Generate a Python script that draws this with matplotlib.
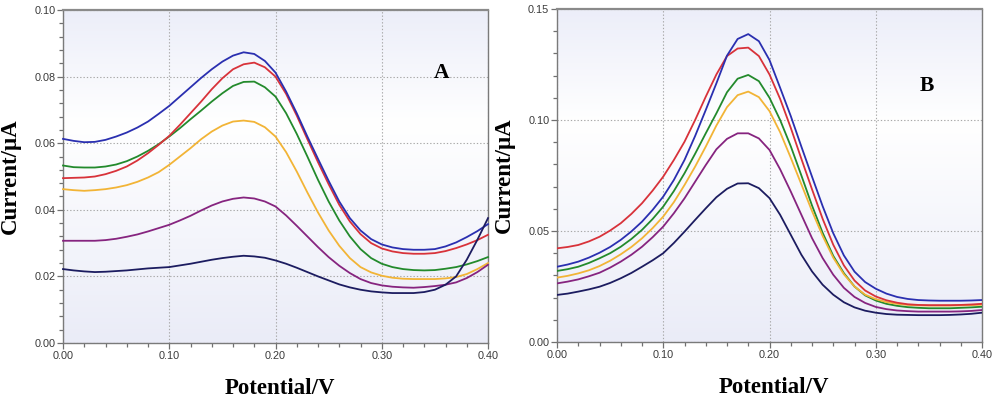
import numpy as np
import matplotlib
matplotlib.use("Agg")
import matplotlib.pyplot as plt
from matplotlib.ticker import MultipleLocator, FormatStrFormatter
from matplotlib.colors import LinearSegmentedColormap

# ---------------- data ----------------
potential = np.round(np.arange(41) * 0.01, 2)

a_blue = [0.0613, 0.0607, 0.0603, 0.0604, 0.0610, 0.0620, 0.0632, 0.0647, 0.0665, 0.0688,
          0.0712, 0.0740, 0.0768, 0.0796, 0.0822, 0.0845, 0.0863, 0.0873, 0.0868, 0.0847,
          0.0812, 0.0755, 0.0690, 0.0620, 0.0553, 0.0487, 0.0425, 0.0375, 0.0338, 0.0312,
          0.0296, 0.0287, 0.0282, 0.0280, 0.0280, 0.0282, 0.0290, 0.0302, 0.0318, 0.0336, 0.0357]
a_red = [0.0495, 0.0496, 0.0497, 0.0500, 0.0507, 0.0517, 0.0530, 0.0548, 0.0570, 0.0595,
         0.0622, 0.0655, 0.0690, 0.0725, 0.0762, 0.0795, 0.0822, 0.0837, 0.0842, 0.0828,
         0.0800, 0.0748, 0.0683, 0.0612, 0.0543, 0.0477, 0.0415, 0.0365, 0.0327, 0.0300,
         0.0284, 0.0275, 0.0270, 0.0268, 0.0268, 0.0270, 0.0276, 0.0285, 0.0296, 0.0309, 0.0325]
a_green = [0.0533, 0.0528, 0.0527, 0.0527, 0.0530, 0.0536, 0.0546, 0.0560, 0.0577, 0.0597,
           0.0620, 0.0645, 0.0672, 0.0698, 0.0725, 0.0750, 0.0772, 0.0784, 0.0785, 0.0768,
           0.0740, 0.0690, 0.0628, 0.0560, 0.0490, 0.0425, 0.0368, 0.0320, 0.0282, 0.0255,
           0.0238, 0.0228, 0.0222, 0.0219, 0.0218, 0.0219, 0.0223, 0.0228, 0.0236, 0.0246, 0.0258]
a_yellow = [0.0462, 0.0459, 0.0457, 0.0459, 0.0462, 0.0467, 0.0474, 0.0484, 0.0497, 0.0513,
            0.0535, 0.0560, 0.0585, 0.0612, 0.0635, 0.0653, 0.0665, 0.0668, 0.0664, 0.0648,
            0.0620, 0.0573, 0.0515, 0.0452, 0.0392, 0.0338, 0.0292, 0.0255, 0.0228, 0.0212,
            0.0202, 0.0196, 0.0193, 0.0192, 0.0192, 0.0192, 0.0194, 0.0198, 0.0207, 0.0222, 0.0240]
a_purple = [0.0307, 0.0307, 0.0307, 0.0307, 0.0309, 0.0313, 0.0319, 0.0326, 0.0335, 0.0345,
            0.0355, 0.0368, 0.0382, 0.0398, 0.0413, 0.0425, 0.0433, 0.0437, 0.0434, 0.0425,
            0.0410, 0.0383, 0.0352, 0.0320, 0.0288, 0.0258, 0.0232, 0.0210, 0.0192, 0.0180,
            0.0173, 0.0169, 0.0167, 0.0166, 0.0168, 0.0171, 0.0175, 0.0182, 0.0195, 0.0213, 0.0235]
a_navy = [0.0222, 0.0218, 0.0215, 0.0213, 0.0214, 0.0216, 0.0218, 0.0221, 0.0224, 0.0226,
          0.0228, 0.0233, 0.0238, 0.0244, 0.0250, 0.0255, 0.0259, 0.0262, 0.0260, 0.0256,
          0.0248, 0.0238, 0.0226, 0.0213, 0.0200, 0.0188, 0.0176, 0.0167, 0.0160, 0.0155,
          0.0152, 0.0150, 0.0150, 0.0150, 0.0153, 0.0160, 0.0175, 0.0200, 0.0250, 0.0310, 0.0375]

b_blue = [0.0339, 0.0349, 0.0362, 0.0380, 0.0402, 0.0428, 0.0460, 0.0498, 0.0542, 0.0595,
          0.0655, 0.0730, 0.0820, 0.0928, 0.1045, 0.1165, 0.1290, 0.1365, 0.1387, 0.1355,
          0.1270, 0.1145, 0.1018, 0.0880, 0.0745, 0.0612, 0.0490, 0.0390, 0.0317, 0.0270,
          0.0240, 0.0218, 0.0203, 0.0194, 0.0189, 0.0187, 0.0186, 0.0186, 0.0186, 0.0187, 0.0189]
b_red = [0.0422, 0.0428, 0.0437, 0.0453, 0.0474, 0.0502, 0.0535, 0.0577, 0.0625, 0.0682,
         0.0745, 0.0820, 0.0902, 0.1000, 0.1105, 0.1205, 0.1288, 0.1322, 0.1326, 0.1288,
         0.1205, 0.1095, 0.0965, 0.0825, 0.0688, 0.0555, 0.0438, 0.0345, 0.0277, 0.0232,
         0.0205, 0.0188, 0.0177, 0.0170, 0.0167, 0.0166, 0.0166, 0.0166, 0.0167, 0.0169, 0.0172]
b_green = [0.0320, 0.0328, 0.0339, 0.0356, 0.0377, 0.0400, 0.0429, 0.0464, 0.0505, 0.0554,
           0.0610, 0.0680, 0.0760, 0.0848, 0.0940, 0.1030, 0.1125, 0.1186, 0.1203, 0.1175,
           0.1100, 0.1000, 0.0882, 0.0750, 0.0615, 0.0492, 0.0388, 0.0310, 0.0250, 0.0210,
           0.0187, 0.0172, 0.0163, 0.0157, 0.0154, 0.0152, 0.0152, 0.0152, 0.0154, 0.0156, 0.0159]
b_yellow = [0.0290, 0.0298, 0.0309, 0.0323, 0.0342, 0.0366, 0.0395, 0.0428, 0.0467, 0.0513,
            0.0565, 0.0630, 0.0707, 0.0790, 0.0880, 0.0975, 0.1058, 0.1112, 0.1128, 0.1103,
            0.1040, 0.0945, 0.0830, 0.0710, 0.0590, 0.0478, 0.0380, 0.0305, 0.0250, 0.0213,
            0.0193, 0.0180, 0.0172, 0.0167, 0.0165, 0.0164, 0.0164, 0.0164, 0.0165, 0.0166, 0.0168]
b_purple = [0.0264, 0.0272, 0.0282, 0.0296, 0.0312, 0.0335, 0.0362, 0.0393, 0.0429, 0.0472,
            0.0520, 0.0580, 0.0647, 0.0722, 0.0797, 0.0868, 0.0915, 0.0940, 0.0940, 0.0917,
            0.0865, 0.0778, 0.0678, 0.0573, 0.0468, 0.0378, 0.0303, 0.0244, 0.0203, 0.0176,
            0.0158, 0.0148, 0.0142, 0.0139, 0.0137, 0.0137, 0.0137, 0.0137, 0.0138, 0.0140, 0.0144]
b_navy = [0.0212, 0.0218, 0.0227, 0.0237, 0.0249, 0.0266, 0.0287, 0.0311, 0.0339, 0.0368,
          0.0400, 0.0446, 0.0497, 0.0550, 0.0602, 0.0652, 0.0690, 0.0714, 0.0715, 0.0693,
          0.0648, 0.0573, 0.0483, 0.0393, 0.0318, 0.0258, 0.0213, 0.0179, 0.0156, 0.0141,
          0.0132, 0.0126, 0.0123, 0.0122, 0.0121, 0.0121, 0.0121, 0.0122, 0.0124, 0.0127, 0.0132]

colors = {"blue": "#2a2fb0", "red": "#d8323a", "green": "#238a2c",
          "yellow": "#f2b436", "purple": "#86247f", "navy": "#1c1c60"}

panel_a = [("yellow", a_yellow), ("purple", a_purple), ("green", a_green),
           ("red", a_red), ("blue", a_blue), ("navy", a_navy)]
panel_b = [("navy", b_navy), ("purple", b_purple), ("green", b_green),
           ("yellow", b_yellow), ("red", b_red), ("blue", b_blue)]

# ---------------- figure ----------------
fig = plt.figure(figsize=(9.96, 3.98), dpi=100)
fig.patch.set_facecolor("white")

bg_cmap = LinearSegmentedColormap.from_list(
    "bg", [(0.0, (0.918, 0.925, 0.970)), (0.66, (1.0, 1.0, 1.0)),
           (1.0, (0.925, 0.933, 0.976))])


def style_axes(ax, ymax, ymajor, yminor, letter, lx, ly):
    ax.set_xlim(0, 0.40)
    ax.set_ylim(0, ymax)
    grad = np.linspace(0, 1, 256).reshape(-1, 1)
    ax.imshow(grad, cmap=bg_cmap, aspect="auto", extent=(0, 0.40, ymax, 0),
              zorder=0, interpolation="bicubic")
    ax.set_ylim(0, ymax)
    ax.xaxis.set_major_locator(MultipleLocator(0.10))
    ax.xaxis.set_minor_locator(MultipleLocator(0.02))
    ax.yaxis.set_major_locator(MultipleLocator(ymajor))
    ax.yaxis.set_minor_locator(MultipleLocator(yminor))
    ax.xaxis.set_major_formatter(FormatStrFormatter("%.2f"))
    ax.yaxis.set_major_formatter(FormatStrFormatter("%.2f"))
    ax.tick_params(which="both", direction="out", colors="#707070",
                   labelcolor="#3a3a3a", labelsize=7.8, width=0.9)
    ax.tick_params(which="major", length=4, pad=1.5)
    ax.tick_params(which="minor", length=3)
    for lab in ax.get_xticklabels() + ax.get_yticklabels():
        lab.set_fontfamily("Liberation Sans")
    ax.grid(True, which="major", color="#a8a8a8", linestyle=(0, (1.2, 1.8)),
            linewidth=0.8, zorder=1)
    for s in ax.spines.values():
        s.set_color("#7a7a7a")
        s.set_linewidth(1.0)
    ax.spines["top"].set_linewidth(1.6)
    ax.spines["top"].set_color("#8a8a8a")
    ax.set_xlabel("Potential/V", fontfamily="Liberation Serif",
                  fontweight="bold", fontsize=16.5)
    ax.set_ylabel("Current/\u03bcA", fontfamily="Liberation Serif",
                  fontweight="bold", fontsize=16.5)
    ax.xaxis.set_label_coords(0.51, -0.105)
    ax.yaxis.set_label_coords(-0.10, 0.50)
    ax.text(lx, ly, letter, transform=ax.transAxes, fontfamily="Liberation Serif",
            fontweight="bold", fontsize=15.5, ha="center", va="center", zorder=5)


axA = fig.add_axes([63 / 996, 55 / 398, 425 / 996, 333 / 398])
axB = fig.add_axes([557 / 996, 56 / 398, 425 / 996, 333 / 398])

style_axes(axA, 0.10, 0.02, 0.004, "A", 0.890, 0.810)
style_axes(axB, 0.15, 0.05, 0.01, "B", 0.870, 0.770)

for name, vals in panel_a:
    axA.plot(potential, vals, color=colors[name], lw=1.3, zorder=3, clip_on=False)
for name, vals in panel_b:
    axB.plot(potential, vals, color=colors[name], lw=1.3, zorder=3)

fig.savefig("out.png", dpi=100)
